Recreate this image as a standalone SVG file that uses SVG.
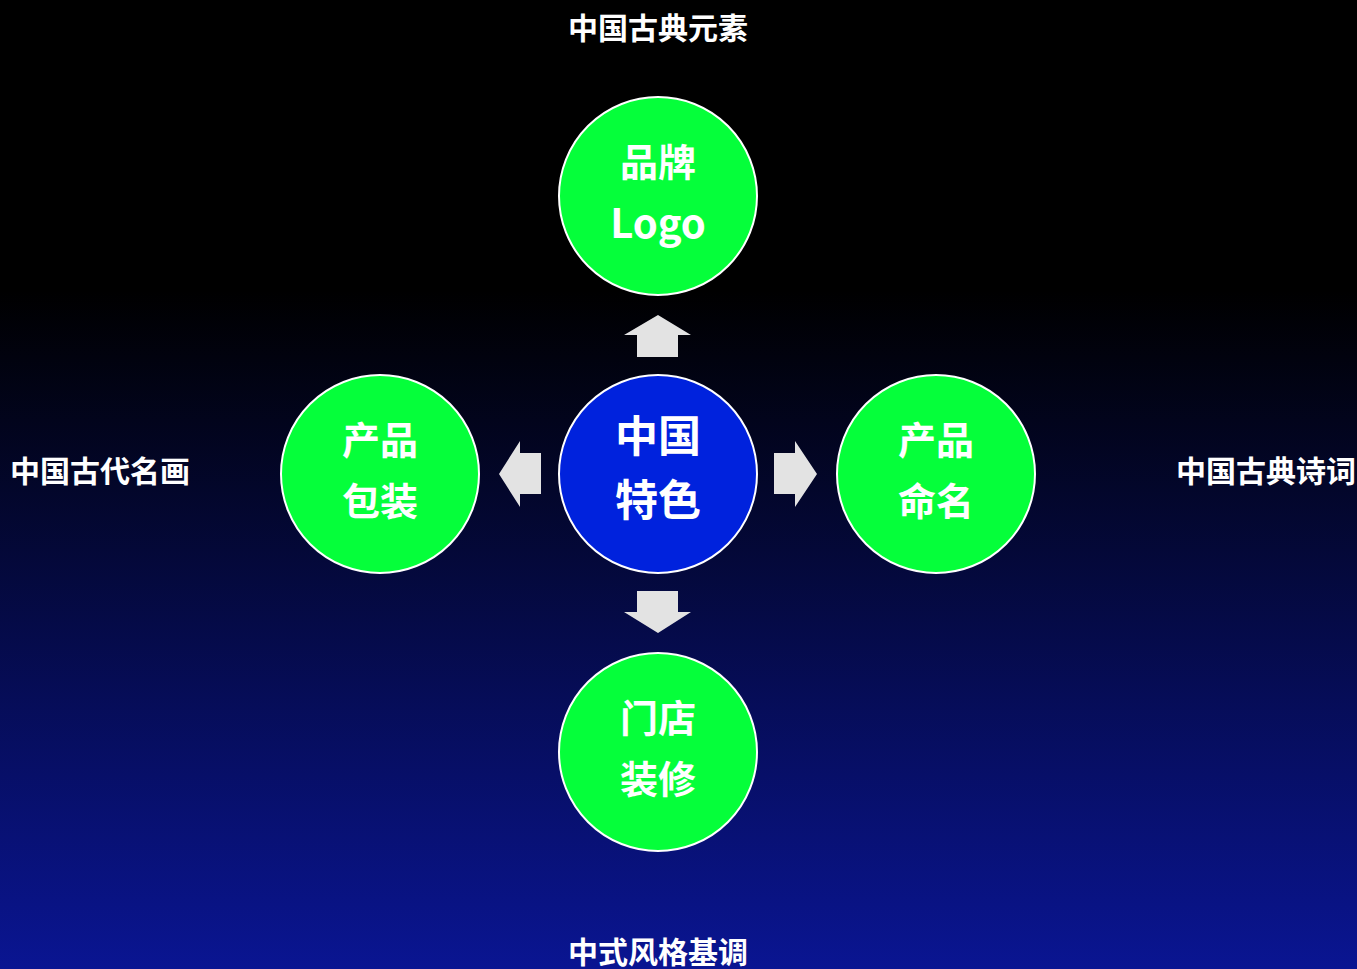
<svg xmlns="http://www.w3.org/2000/svg" width="1357" height="969" viewBox="0 0 1357 969">
<defs>
<linearGradient id="bg" x1="0" y1="0" x2="0" y2="1">
<stop offset="0" stop-color="#000000"/>
<stop offset="0.3" stop-color="#000000"/>
<stop offset="1" stop-color="#0a1592"/>
</linearGradient>
<style>
.g{fill:#05ff3a;stroke:#ffffff;stroke-width:2}
.b{fill:#0022dd;stroke:#ffffff;stroke-width:2}
.t{font-family:"Noto Sans CJK SC","Noto Sans",sans-serif;font-weight:bold;fill:#ffffff;text-anchor:middle}
.c{font-size:38px}
.l{font-size:40px}
.m{font-size:43px}
.o{font-size:30px}
.a{fill:#e3e3e3}
</style>
</defs>
<rect width="1357" height="969" fill="url(#bg)"/>
<g id="connectors">
<polygon class="a" points="658,315 691,335 678,335 678,357 637,357 637,335 624,335"/>
<polygon class="a" points="658,633 691,612 678,612 678,591 637,591 637,612 624,612"/>
<polygon class="a" points="499,474 520,441 520,453 541,453 541,494 520,494 520,507"/>
<polygon class="a" points="817,474 795,441 795,453 774,453 774,494 795,494 795,507"/>
</g>
<g id="center">
<circle class="b" cx="658" cy="474" r="99"/>
<text class="t m" x="658" y="452">中国</text>
<text class="t m" x="658" y="516">特色</text>
</g>
<g id="top">
<circle class="g" cx="658" cy="196" r="99"/>
<text class="t c" x="658" y="176">品牌</text>
<text class="t l" x="658" y="238">Logo</text>
</g>
<g id="left">
<circle class="g" cx="380" cy="474" r="99"/>
<text class="t c" x="380" y="454">产品</text>
<text class="t c" x="380" y="515">包装</text>
</g>
<g id="right">
<circle class="g" cx="936" cy="474" r="99"/>
<text class="t c" x="936" y="454">产品</text>
<text class="t c" x="936" y="515">命名</text>
</g>
<g id="bottom">
<circle class="g" cx="658" cy="752" r="99"/>
<text class="t c" x="658" y="732">门店</text>
<text class="t c" x="658" y="793">装修</text>
</g>
<g id="labels">
<text class="t o" x="658" y="39">中国古典元素</text>
<text class="t o" x="100" y="482">中国古代名画</text>
<text class="t o" x="1266" y="482">中国古典诗词</text>
<text class="t o" x="658" y="963">中式风格基调</text>
</g>
</svg>
